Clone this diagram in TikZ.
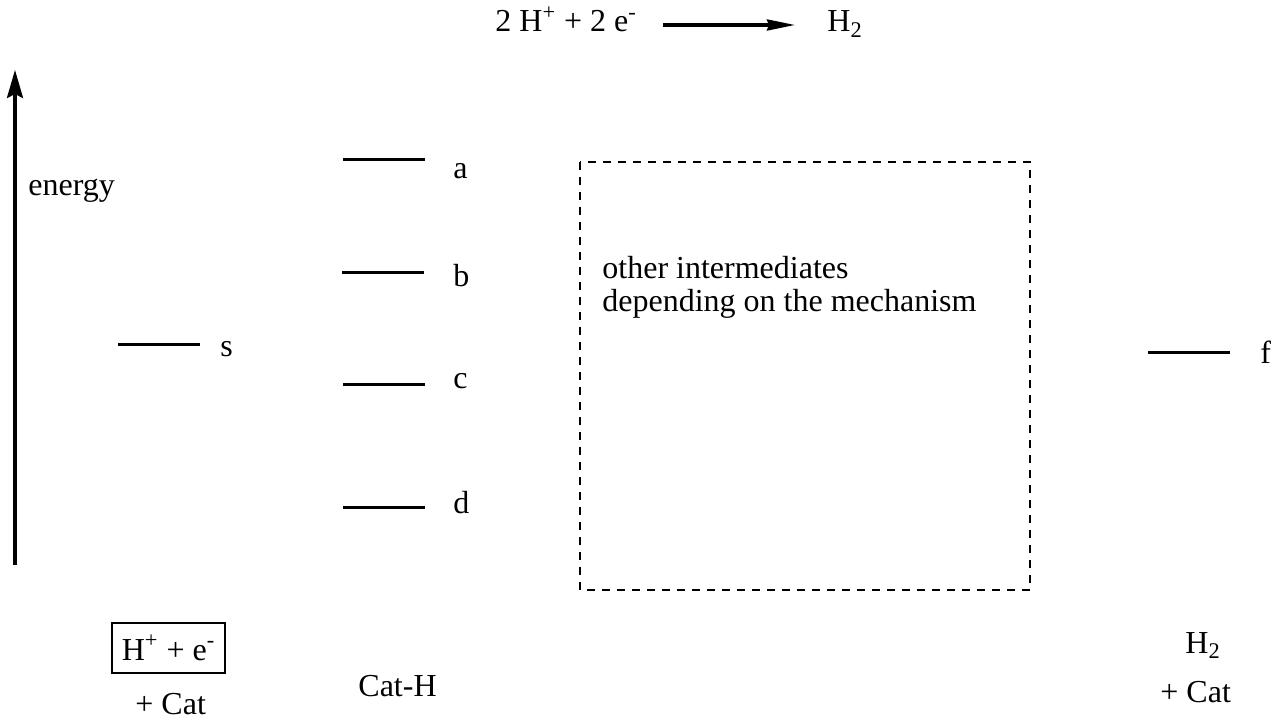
\documentclass[tikz,border=0pt]{standalone}
\usepackage{fontspec}
\setmainfont{Liberation Serif}
\usepackage{tikz}
\usetikzlibrary{arrows.meta,positioning}

\tikzset{
  level/.style={line width=1.5pt},
  lbl/.style={anchor=base west,inner sep=0pt},
  txt/.style={anchor=base west,inner sep=0pt},
  axis/.style={line width=1.6pt,-{Stealth[length=14pt,width=8pt,inset=2pt]}},
  rxn/.style={line width=1.6pt,-{Stealth[length=14pt,width=5.5pt,inset=1pt]}},
  otherbox/.style={line width=1.2pt,dash pattern=on 4pt off 3.5pt}
}

\begin{document}
\begin{tikzpicture}[x=0.5pt,y=-0.5pt,font=\fontsize{16}{17}\selectfont]
  \useasboundingbox (0,0) rectangle (1272,721);

  % overall reaction
  \node[txt] (react) at (495,32) {2 H\textsuperscript{+} + 2 e\textsuperscript{-}};
  \node[txt] (prod) at (827,32) {H\textsubscript{2}};
  \coordinate (r1) at (663,25);
  \coordinate (r2) at (795,25);
  \draw[rxn] (r1) -- (r2);

  % energy axis
  \coordinate (e0) at (15,565);
  \coordinate (e1) at (15,70);
  \draw[axis] (e0) -- (e1);
  \node[txt] (energy) at (28,196) {energy};

  % levels
  \foreach \n/\xa/\ya/\lx/\ly in {s/118/344/220/356,a/343/160/453/179,b/342/273/453/287,
      c/343/384/453/388,d/343/507/453/513,f/1148/352/1260/363}{
    \draw[level] (\xa,\ya) coordinate (lev-\n) -- ++(82,0);
    \node[lbl] (lab-\n) at (\lx,\ly) {\n};
  }

  % other intermediates
  \draw[otherbox] (580,162) rectangle (1030,590);
  \node[txt,align=left] (other) at (602,312) {other intermediates\\depending on the mechanism};

  % species
  \node[draw,line width=1.2pt,inner sep=0pt,minimum width=56.5pt,minimum height=25pt] (start)
    at (168.5,648) {H\textsuperscript{+} + e\textsuperscript{-}};
  \node[txt] (startcat) at (135,714) {+ Cat};
  \node[txt] (cath) at (358,696) {Cat-H};
  \node[txt] (endh) at (1185,653) {H\textsubscript{2}};
  \node[txt] (endcat) at (1160,702) {+ Cat};
\end{tikzpicture}
\end{document}
